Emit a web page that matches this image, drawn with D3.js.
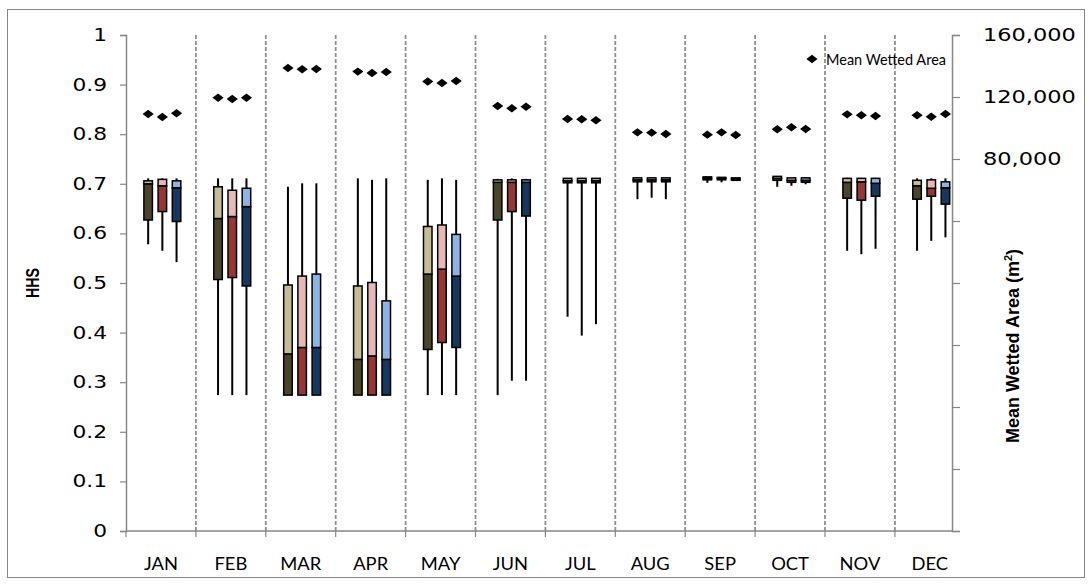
<!DOCTYPE html>
<html>
<head>
<meta charset="utf-8">
<script src="https://cdn.jsdelivr.net/npm/d3@7"></script>
<style>
  body { margin: 0; background: #fff; }
  svg { display: block; }
</style>
</head>
<body>
<div id="chart"></div>
<script>
// Months on the category axis
const months = ['JAN', 'FEB', 'MAR', 'APR', 'MAY', 'JUN', 'JUL', 'AUG', 'SEP', 'OCT', 'NOV', 'DEC'];

// HHS box plot values, series 1 (olive)
const s1Min = [0.578, 0.274, 0.274, 0.274, 0.274, 0.274, 0.432, 0.669, 0.702, 0.694, 0.565, 0.565];
const s1Q1  = [0.627, 0.507, 0.274, 0.274, 0.366, 0.627, 0.702, 0.704, 0.708, 0.707, 0.671, 0.669];
const s1Med = [0.700, 0.630, 0.357, 0.346, 0.518, 0.703, 0.706, 0.708, 0.711, 0.711, 0.703, 0.696];
const s1Q3  = [0.706, 0.694, 0.496, 0.494, 0.614, 0.708, 0.711, 0.712, 0.714, 0.715, 0.711, 0.707];
const s1Max = [0.711, 0.711, 0.694, 0.711, 0.708, 0.710, 0.711, 0.712, 0.714, 0.715, 0.712, 0.711];

// series 2 (red)
const s2Min = [0.565, 0.274, 0.274, 0.274, 0.274, 0.303, 0.394, 0.672, 0.703, 0.696, 0.558, 0.585];
const s2Q1  = [0.644, 0.511, 0.274, 0.274, 0.380, 0.644, 0.702, 0.704, 0.708, 0.703, 0.667, 0.675];
const s2Med = [0.696, 0.634, 0.370, 0.353, 0.528, 0.703, 0.706, 0.708, 0.711, 0.707, 0.704, 0.691];
const s2Q3  = [0.709, 0.687, 0.514, 0.501, 0.617, 0.708, 0.711, 0.712, 0.713, 0.712, 0.711, 0.708];
const s2Max = [0.711, 0.711, 0.701, 0.708, 0.711, 0.711, 0.711, 0.712, 0.713, 0.712, 0.712, 0.711];

// series 3 (blue)
const s3Min = [0.542, 0.274, 0.274, 0.274, 0.274, 0.303, 0.417, 0.669, 0.706, 0.699, 0.569, 0.592];
const s3Q1  = [0.624, 0.494, 0.274, 0.274, 0.370, 0.635, 0.702, 0.704, 0.707, 0.703, 0.675, 0.659];
const s3Med = [0.692, 0.654, 0.370, 0.346, 0.514, 0.703, 0.706, 0.708, 0.710, 0.707, 0.701, 0.692];
const s3Q3  = [0.706, 0.691, 0.518, 0.464, 0.598, 0.708, 0.711, 0.712, 0.712, 0.712, 0.711, 0.704];
const s3Max = [0.711, 0.711, 0.701, 0.711, 0.708, 0.710, 0.711, 0.712, 0.712, 0.712, 0.712, 0.711];

// Mean wetted area (m2), secondary axis
const area1 = [109000, 119500, 138700, 136400, 130000, 114200, 105800, 97200, 95700, 99200, 108800, 108200];
const area2 = [107100, 118700, 137900, 135500, 129000, 112700, 105600, 97000, 97200, 100500, 108200, 107300];
const area3 = [109500, 119500, 138100, 136100, 130300, 113700, 105000, 96100, 95500, 99400, 107700, 109000];

const hhsTicks = d3.range(0, 11).map(i => i / 10);
const areaTicks = d3.range(-160000, 160001, 40000);

const W = 1092, H = 584;
const plotLeft = 126, plotTop = 35, plotBottom = 531, monthW = 69.9;
const plotRight = 952; // plot is cut short inside DEC
const axisGrey = '#868686';

const series = [
    { min: s1Min, q1: s1Q1, med: s1Med, q3: s1Q3, max: s1Max, area: area1, dark: '#4a452a', light: '#c4bd97' },
    { min: s2Min, q1: s2Q1, med: s2Med, q3: s2Q3, max: s2Max, area: area2, dark: '#953735', light: '#e6b9b8' },
    { min: s3Min, q1: s3Q1, med: s3Med, q3: s3Q3, max: s3Max, area: area3, dark: '#17375e', light: '#8eb4e3' }
];

const numFont = '"DejaVu Sans", Verdana, sans-serif';
const lblFont = 'Lato, "Open Sans", sans-serif';
const titleFont = '"Liberation Sans Narrow", "Arial Narrow", "Liberation Sans", sans-serif';

// widen text like the stretched original
function stretch(sel, k) {
    sel.each(function () {
        const w = this.getComputedTextLength();
        this.setAttribute('textLength', w * k);
        this.setAttribute('lengthAdjust', 'spacingAndGlyphs');
    });
}

const svg = d3.select('#chart').append('svg')
    .attr('width', W).attr('height', H)
    .attr('viewBox', `0 0 ${W} ${H}`);

// chart border
svg.append('rect')
    .attr('x', 7.5).attr('y', 9.5)
    .attr('width', 1077).attr('height', 568)
    .attr('fill', '#fff')
    .attr('stroke', axisGrey)
    .attr('stroke-width', 1);

const x = d3.scaleBand().domain(months).range([plotLeft, plotLeft + monthW * 12]).padding(0);
const sub = d3.scaleBand().domain([0, 1, 2])
    .range([x.bandwidth() / 2 - 21.3 + 1.4, x.bandwidth() / 2 + 21.3 + 1.4])
    .paddingInner(0.4).paddingOuter(0.2);
const y = d3.scaleLinear().domain([0, 1]).range([plotBottom, plotTop]);
const yR = d3.scaleLinear().domain([-160000, 160000]).range([plotBottom, plotTop]);

// dashed month separators
svg.append('g')
    .selectAll('line')
    .data(months.slice(1))
    .join('line')
    .attr('x1', d => x(d)).attr('x2', d => x(d))
    .attr('y1', plotTop).attr('y2', plotBottom)
    .attr('stroke', '#8f8f8f')
    .attr('stroke-width', 1.8)
    .attr('stroke-dasharray', '4,2');

// left axis
const gL = svg.append('g')
    .attr('transform', `translate(${plotLeft},0)`)
    .call(d3.axisLeft(y).tickValues(hhsTicks).tickSize(6).tickPadding(13)
        .tickFormat(d => String(+d.toFixed(1))));
gL.select('.domain').attr('stroke', axisGrey).attr('stroke-width', 1.5);
gL.selectAll('.tick line').attr('stroke', axisGrey).attr('stroke-width', 1.2);
gL.selectAll('.tick text')
    .attr('font-family', numFont).attr('font-size', 17).attr('fill', '#000');
stretch(gL.selectAll('.tick text'), 1.28);

// right axis
const gR = svg.append('g')
    .attr('transform', `translate(${plotRight},0)`)
    .call(d3.axisRight(yR).tickValues(areaTicks).tickSize(8).tickPadding(23)
        .tickFormat(d => d >= 80000 ? d3.format(',')(d) : ''));
gR.select('.domain').attr('stroke', axisGrey).attr('stroke-width', 1.5);
gR.selectAll('.tick line').attr('stroke', axisGrey).attr('stroke-width', 1.2);
gR.selectAll('.tick text')
    .attr('font-family', numFont).attr('font-size', 17).attr('fill', '#000');
stretch(gR.selectAll('.tick text').filter(d => d >= 80000), 1.32);

// bottom axis: line, ticks on month boundaries, labels centred
svg.append('line')
    .attr('x1', plotLeft).attr('x2', plotRight)
    .attr('y1', plotBottom).attr('y2', plotBottom)
    .attr('stroke', axisGrey).attr('stroke-width', 1.5);
svg.append('g')
    .selectAll('line')
    .data(months)
    .join('line')
    .attr('x1', d => x(d)).attr('x2', d => x(d))
    .attr('y1', plotBottom).attr('y2', plotBottom + 6)
    .attr('stroke', axisGrey).attr('stroke-width', 1.2);
const gB = svg.append('g')
    .attr('transform', `translate(0,${plotBottom})`)
    .call(d3.axisBottom(x).tickSize(0).tickPadding(27));
gB.select('.domain').remove();
gB.selectAll('.tick text')
    .attr('font-family', lblFont).attr('font-size', 17).attr('fill', '#000');
stretch(gB.selectAll('.tick text'), 1.08);

// box plots
series.forEach((s, i) => {
    const g = svg.append('g');
    const cx = m => x(m) + sub(i) + sub.bandwidth() / 2;

    g.selectAll('.whisker')
        .data(months)
        .join('line')
        .attr('class', 'whisker')
        .attr('x1', cx).attr('x2', cx)
        .attr('y1', (m, j) => y(s.max[j]))
        .attr('y2', (m, j) => y(s.min[j]))
        .attr('stroke', '#000')
        .attr('stroke-width', 2);

    // lower part: Q1 -> median
    g.selectAll('.lo')
        .data(months)
        .join('rect')
        .attr('class', 'lo')
        .attr('x', m => x(m) + sub(i))
        .attr('width', sub.bandwidth())
        .attr('y', (m, j) => y(s.med[j]))
        .attr('height', (m, j) => y(s.q1[j]) - y(s.med[j]))
        .attr('fill', s.dark)
        .attr('stroke', '#000')
        .attr('stroke-width', 1.5);

    // upper part: median -> Q3
    g.selectAll('.hi')
        .data(months)
        .join('rect')
        .attr('class', 'hi')
        .attr('x', m => x(m) + sub(i))
        .attr('width', sub.bandwidth())
        .attr('y', (m, j) => y(s.q3[j]))
        .attr('height', (m, j) => y(s.med[j]) - y(s.q3[j]))
        .attr('fill', s.light)
        .attr('stroke', '#000')
        .attr('stroke-width', 1.5);
});

// mean wetted area diamonds
const diamond = 'M0,-4.2L5.6,0L0,4.2L-5.6,0Z';
series.forEach((s, i) => {
    svg.append('g')
        .selectAll('path')
        .data(months)
        .join('path')
        .attr('d', diamond)
        .attr('transform', (m, j) =>
            `translate(${x(m) + sub(i) + sub.bandwidth() / 2},${yR(s.area[j])})`)
        .attr('fill', '#000');
});

// legend
svg.append('path')
    .attr('d', diamond)
    .attr('transform', 'translate(812,59)')
    .attr('fill', '#000');
svg.append('text')
    .attr('x', 826).attr('y', 65)
    .attr('font-family', lblFont).attr('font-size', 16)
    .attr('textLength', 120).attr('lengthAdjust', 'spacingAndGlyphs')
    .text('Mean Wetted Area');

// axis titles
svg.append('text')
    .attr('transform', 'translate(39,283) rotate(-90)')
    .attr('text-anchor', 'middle')
    .attr('font-family', titleFont).attr('font-weight', 'bold').attr('font-size', 18)
    .attr('textLength', 30).attr('lengthAdjust', 'spacingAndGlyphs')
    .text('HHS');

const t2 = svg.append('text')
    .attr('transform', 'translate(1019,346) rotate(-90)')
    .attr('text-anchor', 'middle')
    .attr('font-family', titleFont).attr('font-weight', 'bold').attr('font-size', 18);
t2.append('tspan').text('Mean Wetted Area (m');
t2.append('tspan').attr('font-size', 11).attr('dy', -7).text('2');
t2.append('tspan').attr('dy', 7).text(')');
</script>
</body>
</html>
